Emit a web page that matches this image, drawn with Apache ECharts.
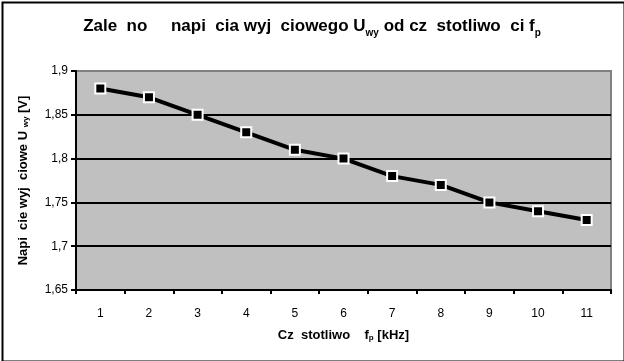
<!DOCTYPE html>
<html>
<head>
<meta charset="utf-8">
<script src="https://cdn.jsdelivr.net/npm/echarts@6/dist/echarts.min.js"></script>
<style>
html,body{margin:0;padding:0;background:#fff;}
#c{width:624px;height:361px;}
</style>
</head>
<body>
<div id="c"></div>
<script>
var categories = ['1','2','3','4','5','6','7','8','9','10','11'];
var voltage = [1.88, 1.87, 1.85, 1.83, 1.81, 1.80, 1.78, 1.77, 1.75, 1.74, 1.73];
var yMin = 1.65, yMax = 1.9, yStep = 0.05;

var chart = echarts.init(document.getElementById('c'), null, {renderer:'canvas'});
var FONT = '"Liberation Sans", Arial, sans-serif';
chart.setOption({
  animation: false,
  backgroundColor: '#fff',
  title: {
    text: '{m|Zale  no     napi  cia wyj  ciowego U}{s|wy}{m| od cz  stotliwo  ci f}{s|p}',
    left: 'center', top: 9,
    textStyle: {
      rich: {
        m: {fontFamily: FONT, fontWeight: 'bold', fontSize: 17, color: '#000', verticalAlign: 'bottom', lineHeight: 21},
        s: {fontFamily: FONT, fontWeight: 'bold', fontSize: 10, color: '#000', verticalAlign: 'bottom', lineHeight: 16, padding:[0,0,-3,0]}
      }
    }
  },
  grid: {
    left: 76, top: 71, width: 535, height: 219,
    show: true, backgroundColor: '#C0C0C0', borderColor: '#808080', borderWidth: 2
  },
  xAxis: {
    type: 'category', data: categories, boundaryGap: true,
    axisLine: {lineStyle: {color: '#000', width: 2}},
    axisTick: {show: true, inside: false, length: 4, interval: 0, lineStyle: {color: '#000', width: 2}},
    axisLabel: {color: '#000', fontFamily: FONT, fontSize: 12, margin: 18},
    name: '{m|Cz  stotliwo    f}{s|p}{m| [kHz]}',
    nameLocation: 'middle', nameGap: 39,
    nameTextStyle: {
      rich: {
        m: {fontFamily: FONT, fontWeight: 'bold', fontSize: 13, color: '#000'},
        s: {fontFamily: FONT, fontWeight: 'bold', fontSize: 8, color: '#000', padding:[5,0,0,0]}
      }
    }
  },
  yAxis: {
    type: 'value', min: yMin, max: yMax, interval: yStep,
    axisLine: {show: true, lineStyle: {color: '#000', width: 2}},
    axisTick: {show: true, inside: false, length: 5, lineStyle: {color: '#000', width: 2}},
    axisLabel: {color: '#000', fontFamily: FONT, fontSize: 12, margin: 8,
      formatter: function(v){ return parseFloat(v.toFixed(2)).toString().replace('.', ','); }},
    splitLine: {show: true, lineStyle: {color: ['#000','#000','#000','#000','#000','#808080'], width: 2}},
    name: '{m|Napi  cie wyj  ciowe U }{s|wy}{m| [V]}',
    nameLocation: 'middle', nameGap: 46, nameRotate: 90,
    nameTextStyle: {
      rich: {
        m: {fontFamily: FONT, fontWeight: 'bold', fontSize: 13, color: '#000'},
        s: {fontFamily: FONT, fontWeight: 'bold', fontSize: 8, color: '#000', padding:[5,0,0,0]}
      }
    }
  },
  series: [{
    type: 'line', data: voltage,
    lineStyle: {color: '#000', width: 4},
    symbol: 'rect', symbolSize: 10, showSymbol: true,
    itemStyle: {color: '#000', borderColor: '#fff', borderWidth: 2},
    z: 5
  }],
  graphic: [{
    type: 'rect', left: 0, top: 0, z: 100, silent: true,
    shape: {x: 0, y: 0, width: 622, height: 359},
    style: {fill: 'none', stroke: '#000', lineWidth: 2}
  }]
});
</script>
</body>
</html>
